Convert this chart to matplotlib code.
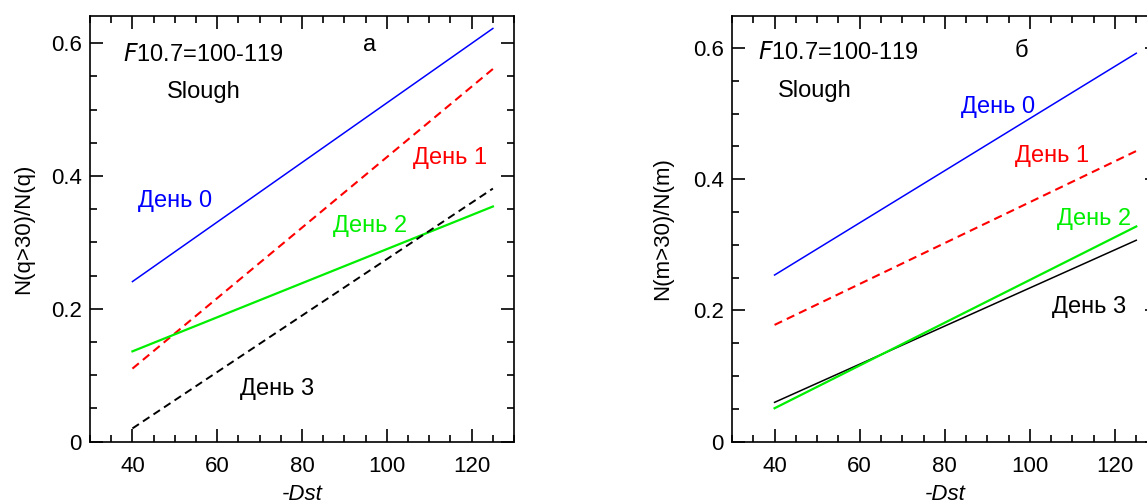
import matplotlib
matplotlib.use("Agg")
import matplotlib.pyplot as plt
from matplotlib.ticker import MultipleLocator

plt.rcParams['font.family'] = ['Liberation Sans', 'DejaVu Sans']
plt.rcParams['font.size'] = 16

# line end points (-Dst = 40 and 125)
dst = [40, 125]

# panel a: N(q>30)/N(q)
a_day0 = [0.241, 0.622]
a_day1 = [0.110, 0.561]
a_day2 = [0.136, 0.354]
a_day3 = [0.020, 0.381]

# panel б: N(m>30)/N(m)
b_day0 = [0.254, 0.592]
b_day1 = [0.178, 0.443]
b_day2 = [0.051, 0.328]
b_day3 = [0.060, 0.307]

dash = (0, (4, 2.5))
txt = 17

fig = plt.figure(figsize=(11.47, 5.04), dpi=100)
ax1 = fig.add_axes([0.0785, 0.1236, 0.3697, 0.845])
ax2 = fig.add_axes([0.6382, 0.1236, 0.371, 0.845])


def style_axes(ax, ytop):
    ax.set_xlim(30, 130)
    ax.set_ylim(0, ytop)
    ax.xaxis.set_major_locator(MultipleLocator(20))
    ax.xaxis.set_minor_locator(MultipleLocator(5))
    ax.yaxis.set_major_locator(MultipleLocator(0.2))
    ax.yaxis.set_minor_locator(MultipleLocator(0.05))
    ax.set_xticks([40, 60, 80, 100, 120])
    ax.set_yticks([0, 0.2, 0.4, 0.6])
    ax.set_yticklabels(['0', '0.2', '0.4', '0.6'])
    ax.tick_params(which='both', direction='in', top=True, right=True, width=1.2)
    ax.tick_params(which='major', length=9.5, labelsize=16)
    ax.tick_params(which='minor', length=5)
    ax.tick_params(axis='x', which='major', pad=10)
    ax.tick_params(axis='y', which='major', pad=6)
    for s in ax.spines.values():
        s.set_linewidth(1.2)
    ax.set_xlabel('-Dst', style='italic', fontsize=16, labelpad=5)


# --- panel a ---
ax1.plot(dst, a_day0, color='blue', linewidth=1.1)
ax1.plot(dst, a_day1, color='red', linewidth=1.5, linestyle=dash)
ax1.plot(dst, a_day2, color='#00ee00', linewidth=1.6)
ax1.plot(dst, a_day3, color='black', linewidth=1.4, linestyle=dash)
style_axes(ax1, 0.641)
ax1.set_ylabel('N(q>30)/N(q)', fontsize=16, labelpad=12)

ax1.text(37.7, 0.582, r'$\it{F}$10.7=100-119', va='center', ha='left', fontsize=txt)
ax1.text(48.1, 0.526, 'Slough', va='center', ha='left', fontsize=txt)
ax1.text(95.9, 0.597, 'а', va='center', ha='center', fontsize=txt)
ax1.text(41.2, 0.363, 'День 0', color='blue', va='center', ha='left', fontsize=txt)
ax1.text(106.2, 0.427, 'День 1', color='red', va='center', ha='left', fontsize=txt)
ax1.text(87.2, 0.324, 'День 2', color='#00ee00', va='center', ha='left', fontsize=txt)
ax1.text(65.3, 0.080, 'День 3', color='black', va='center', ha='left', fontsize=txt)

# --- panel б ---
ax2.plot(dst, b_day0, color='blue', linewidth=1.1)
ax2.plot(dst, b_day1, color='red', linewidth=1.5, linestyle=dash)
ax2.plot(dst, b_day3, color='black', linewidth=1.1)
ax2.plot(dst, b_day2, color='#00ee00', linewidth=1.6)
style_axes(ax2, 0.649)
ax2.set_ylabel('N(m>30)/N(m)', fontsize=16, labelpad=14)

ax2.text(36.1, 0.592, r'$\it{F}$10.7=100-119', va='center', ha='left', fontsize=txt)
ax2.text(40.8, 0.535, 'Slough', va='center', ha='left', fontsize=txt)
ax2.text(98.1, 0.596, 'б', va='center', ha='center', fontsize=txt)
ax2.text(83.8, 0.510, 'День 0', color='blue', va='center', ha='left', fontsize=txt)
ax2.text(96.4, 0.436, 'День 1', color='red', va='center', ha='left', fontsize=txt)
ax2.text(106.3, 0.340, 'День 2', color='#00ee00', va='center', ha='left', fontsize=txt)
ax2.text(105.1, 0.205, 'День 3', color='black', va='center', ha='left', fontsize=txt)

fig.savefig('out.png', dpi=100)
